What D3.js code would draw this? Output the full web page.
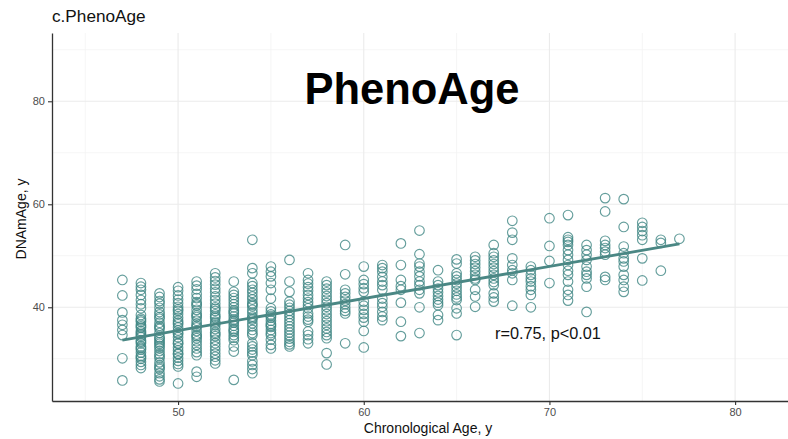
<!DOCTYPE html>
<html>
<head>
<meta charset="utf-8">
<script src="https://cdn.jsdelivr.net/npm/d3@7"></script>
<style>
  body { margin: 0; background: #fff; }
  svg { font-family: "Liberation Sans", Arial, sans-serif; display: block; }
</style>
</head>
<body>
<div id="chart"></div>
<script>
// chronological age columns and the DNAm PhenoAge values
var ages = [47, 48, 49, 50, 51, 52, 53, 54, 55, 56, 57, 58, 59, 60, 61, 62,
            63, 64, 65, 66, 67, 68, 69, 70, 71, 72, 73, 74, 75, 76, 77];
var dnamByAge = [
  [45.3, 42.3, 39.0, 37.5, 36.6, 35.6, 34.6, 30.1, 25.8],
  [44.7, 44.0, 43.4, 42.4, 41.4, 40.6, 39.8, 38.5, 37.8, 37.2, 36.6, 36.0, 35.4, 34.8, 34.2, 33.6, 33.0, 32.4, 31.8, 31.2, 30.6, 30.0, 29.4, 28.8, 28.2, 37.5, 35.1, 33.3, 32.1, 30.3, 36.3, 34.5],
  [42.7, 42.0, 41.2, 40.7, 39.9, 39.1, 38.6, 37.8, 37.0, 36.4, 35.8, 35.0, 34.2, 33.6, 32.9, 32.1, 31.5, 30.9, 30.1, 29.3, 28.7, 28.0, 27.2, 26.6, 26.0, 25.6, 36.1, 34.0, 32.5, 30.5, 28.3, 38.1, 33.2],
  [43.9, 43.2, 42.3, 41.5, 40.8, 40.1, 39.3, 38.7, 38.0, 37.4, 36.7, 36.1, 35.5, 34.8, 34.2, 33.5, 32.9, 32.2, 31.6, 30.9, 30.2, 29.6, 29.0, 28.5, 25.2, 37.0, 35.0, 33.0, 31.0, 39.6],
  [45.0, 44.2, 43.5, 42.6, 41.8, 41.0, 40.3, 39.5, 38.8, 38.1, 37.4, 36.8, 36.1, 35.4, 34.7, 34.0, 33.4, 32.7, 32.0, 31.3, 30.7, 27.5, 26.5, 36.4, 34.4, 38.4, 40.6],
  [46.6, 45.8, 45.1, 44.4, 43.6, 42.9, 42.1, 41.4, 40.7, 40.0, 39.3, 38.6, 37.9, 37.2, 36.5, 35.8, 35.1, 34.4, 33.7, 33.0, 32.4, 31.7, 31.0, 30.4, 29.7, 29.1, 36.9, 34.8, 39.7, 38.2],
  [45.0, 43.0, 42.4, 41.8, 41.2, 40.6, 40.0, 39.4, 38.8, 38.2, 37.6, 37.0, 36.4, 35.8, 35.2, 34.6, 34.1, 33.6, 32.4, 31.4, 25.9, 39.1, 37.3, 35.5],
  [53.1, 47.6, 46.6, 44.7, 44.1, 43.4, 42.8, 42.1, 41.5, 40.8, 40.2, 39.5, 38.9, 38.2, 37.6, 36.9, 36.3, 35.6, 35.0, 34.6, 33.0, 32.4, 31.8, 31.2, 30.7, 29.5, 28.8, 28.0, 27.2, 40.5, 37.9],
  [47.9, 46.9, 46.0, 44.7, 43.4, 41.7, 39.8, 39.2, 38.6, 38.0, 37.4, 36.8, 36.2, 35.6, 35.0, 34.6, 33.7, 32.7, 32.0, 38.3, 36.5],
  [49.2, 45.0, 43.0, 41.1, 40.5, 39.9, 39.3, 38.7, 38.1, 37.5, 36.9, 36.3, 35.7, 35.1, 34.5, 33.9, 33.3, 32.8, 32.4],
  [46.6, 45.3, 44.6, 43.9, 43.2, 42.4, 41.7, 41.0, 40.4, 39.8, 38.8, 38.2, 37.6, 37.2, 35.3, 34.6, 33.8, 33.0],
  [45.0, 44.3, 43.6, 42.9, 42.2, 41.5, 40.8, 40.1, 39.4, 38.7, 38.0, 37.3, 36.6, 35.9, 35.2, 34.6, 34.0, 31.1, 28.9],
  [52.1, 46.4, 43.4, 42.7, 42.0, 41.3, 40.6, 39.9, 39.3, 38.8, 33.0],
  [47.9, 45.3, 44.5, 43.7, 43.0, 41.1, 40.3, 39.5, 38.7, 38.0, 37.2, 35.4, 32.2],
  [48.2, 47.6, 46.9, 45.9, 45.0, 44.3, 43.4, 41.7, 40.8, 40.1, 39.1, 38.2, 37.5],
  [52.4, 48.2, 45.3, 44.1, 43.4, 40.9, 37.2, 34.4],
  [54.9, 50.3, 48.5, 47.9, 46.9, 46.0, 45.0, 44.3, 43.4, 42.7, 40.0, 35.0],
  [47.2, 45.0, 44.3, 43.6, 42.9, 42.2, 41.5, 40.9, 40.4, 38.5, 37.5],
  [49.3, 48.5, 46.6, 46.0, 45.3, 44.6, 43.9, 43.2, 42.5, 41.9, 41.4, 39.8, 38.8, 34.6],
  [49.8, 49.1, 48.4, 47.7, 47.0, 46.3, 45.6, 45.3, 43.4, 42.1, 40.1],
  [52.1, 50.5, 49.8, 49.1, 48.4, 47.7, 47.0, 46.3, 45.6, 44.9, 44.3, 42.7, 41.9, 41.1],
  [56.8, 54.5, 53.1, 49.5, 48.2, 47.2, 46.6, 45.3, 40.3],
  [47.9, 47.2, 46.3, 45.6, 45.0, 44.1, 43.4, 42.4, 40.0],
  [57.3, 51.9, 49.0, 44.7],
  [57.9, 53.6, 53.1, 52.7, 52.1, 51.1, 50.2, 49.2, 48.2, 47.1, 46.3, 45.0, 43.4, 42.4, 41.3],
  [52.1, 51.1, 50.2, 49.2, 47.9, 46.9, 46.3, 45.6, 44.0, 39.1],
  [61.2, 58.6, 52.9, 52.1, 51.5, 50.8, 50.2, 45.9, 45.3],
  [61.0, 55.6, 51.8, 50.5, 49.5, 48.9, 47.9, 46.3, 45.3, 44.0, 43.0],
  [56.4, 55.6, 54.8, 54.0, 53.1, 49.5, 45.2],
  [53.1, 52.5, 47.1],
  [53.3]
];
// fitted regression line end points
var fitX = [47, 77];
var fitY = [33.6, 52.3];
var xTicks = [50, 60, 70, 80];
var yTicks = [40, 60, 80];
var xMinor = [45, 55, 65, 75];
var yMinor = [30, 50, 70, 90];

var points = [];
ages.forEach(function(a, i) {
    dnamByAge[i].forEach(function(v) { points.push({ age: a, value: v }); });
});

var margin = {top: 33, right: -16, bottom: 38, left: 52},
    width = 788 - margin.left - margin.right,
    height = 439 - margin.top - margin.bottom;

var root = d3.select("#chart")
  .append("svg")
    .attr("width", 788)
    .attr("height", 439);
var svg = root.append("g")
    .attr("transform", "translate(" + margin.left + "," + margin.top + ")");

var x = d3.scaleLinear().domain([43.21, 83.71]).range([0, width]);
var y = d3.scaleLinear().domain([21.8, 93.26]).range([height, 0]);

// grid
svg.selectAll(".xminor").data(xMinor).enter().append("line")
    .attr("x1", function(d) { return x(d); }).attr("x2", function(d) { return x(d); })
    .attr("y1", 0).attr("y2", height)
    .attr("stroke", "#f3f3f3").attr("stroke-width", 0.8);
svg.selectAll(".yminor").data(yMinor).enter().append("line")
    .attr("y1", function(d) { return y(d); }).attr("y2", function(d) { return y(d); })
    .attr("x1", 0).attr("x2", width)
    .attr("stroke", "#f3f3f3").attr("stroke-width", 0.8);
svg.selectAll(".xmajor").data(xTicks).enter().append("line")
    .attr("x1", function(d) { return x(d); }).attr("x2", function(d) { return x(d); })
    .attr("y1", 0).attr("y2", height)
    .attr("stroke", "#ebebeb").attr("stroke-width", 1.1);
svg.selectAll(".ymajor").data(yTicks).enter().append("line")
    .attr("y1", function(d) { return y(d); }).attr("y2", function(d) { return y(d); })
    .attr("x1", 0).attr("x2", width)
    .attr("stroke", "#ebebeb").attr("stroke-width", 1.1);

// points
svg.selectAll("circle").data(points).enter().append("circle")
    .attr("cx", function(d) { return x(d.age); })
    .attr("cy", function(d) { return y(d.value); })
    .attr("r", 4.8)
    .attr("fill", "none")
    .attr("stroke", "#3f8683")
    .attr("stroke-opacity", 0.8)
    .attr("stroke-width", 1.15);

// regression line
svg.append("path")
    .datum(fitX.map(function(d, i) { return [d, fitY[i]]; }))
    .attr("fill", "none")
    .attr("stroke", "#4a8784")
    .attr("stroke-width", 2.8)
    .attr("d", d3.line()
        .x(function(d) { return x(d[0]); })
        .y(function(d) { return y(d[1]); }));

// axes
var xAxis = svg.append("g")
    .attr("transform", "translate(0," + height + ")")
    .call(d3.axisBottom(x).tickValues(xTicks).tickSize(4).tickSizeOuter(0).tickPadding(3));
var yAxis = svg.append("g")
    .call(d3.axisLeft(y).tickValues(yTicks).tickSize(4).tickSizeOuter(0).tickPadding(3));
[xAxis, yAxis].forEach(function(g) {
    g.select(".domain").attr("stroke", "#333").attr("stroke-width", 1.3);
    g.selectAll(".tick line").attr("stroke", "#333").attr("stroke-width", 1.1);
    g.selectAll(".tick text")
        .attr("fill", "#4d4d4d")
        .style("font-size", "11px")
        .style("font-family", "Liberation Sans, Arial, sans-serif");
});

// titles and labels
root.append("text")
    .attr("x", 52).attr("y", 22)
    .style("font-size", "17.2px")
    .attr("fill", "#111")
    .text("c.PhenoAge");

root.append("text")
    .attr("x", 412).attr("y", 104)
    .attr("text-anchor", "middle")
    .style("font-size", "43.5px")
    .style("font-weight", "bold")
    .attr("fill", "#000")
    .text("PhenoAge");

root.append("text")
    .attr("x", 495).attr("y", 339)
    .style("font-size", "16.3px")
    .attr("fill", "#111")
    .text("r=0.75, p<0.01");

root.append("text")
    .attr("x", 428).attr("y", 433)
    .attr("text-anchor", "middle")
    .style("font-size", "14px")
    .attr("fill", "#111")
    .text("Chronological Age, y");

root.append("text")
    .attr("transform", "translate(26," + 219 + ") rotate(-90)")
    .attr("text-anchor", "middle")
    .style("font-size", "14px")
    .attr("fill", "#111")
    .text("DNAmAge, y");
</script>
</body>
</html>
